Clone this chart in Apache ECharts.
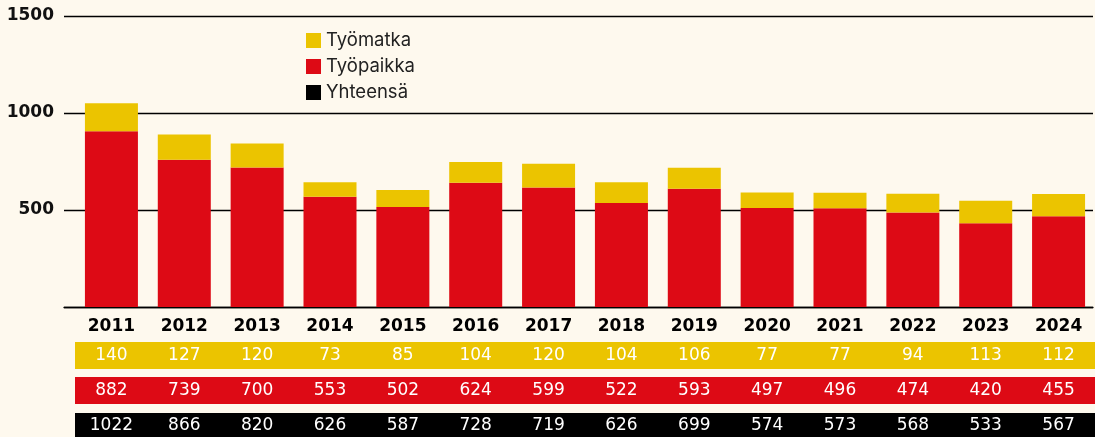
<!DOCTYPE html>
<html>
<head>
<meta charset="utf-8">
<script src="https://cdn.jsdelivr.net/npm/echarts@6/dist/echarts.min.js"></script>
<style>
html,body{margin:0;padding:0;background:#fef9ee;}
#chart{width:1095px;height:437px;}
</style>
</head>
<body>
<div id="chart"></div>
<script>
const years = ['2011','2012','2013','2014','2015','2016','2017','2018','2019','2020','2021','2022','2023','2024'];
const tyomatka = [140,127,120,73,85,104,120,104,106,77,77,94,113,112];
const tyopaikka = [882,739,700,553,502,624,599,522,593,497,496,474,420,455];
const yhteensa = [1022,866,820,626,587,728,719,626,699,574,573,568,533,567];
const seriesNames = ['Työmatka','Työpaikka','Yhteensä'];
const yMin = 0, yMax = 1500, yStep = 500;

const YELLOW = '#ebc400', RED = '#dd0a15', BLACK = '#000000';
const numFont = {fontFamily:'DejaVu Sans', fontSize:17, color:'#ffffff'};
const barGeom = {left:75, width:1026, top:16, height:291};
const barAxisMax = 1460;

function tableAxis(grid, values, color, offset){
  return {
    type:'category', gridIndex:grid, data:years, position:'bottom', offset:offset,
    axisLine:{show:true, onZero:false, lineStyle:{color:color, width:27, cap:'butt'}},
    axisTick:{show:false},
    axisLabel:Object.assign({margin:0, verticalAlign:'middle', interval:0,
      formatter:(v,i)=>String(values[i])}, numFont)
  };
}
function hiddenY(grid, max){
  return {type:'value', gridIndex:grid, min:0, max:max, show:false, splitLine:{show:false}};
}

const chart = echarts.init(document.getElementById('chart'), null, {renderer:'canvas'});
chart.setOption({
  backgroundColor:'#fef9ee',
  animation:false,
  grid:[
    {left:64, right:2, top:16, height:291},
    barGeom, barGeom, barGeom, barGeom
  ],
  legend:{
    orient:'vertical', left:306, top:31, padding:0, itemWidth:15, itemHeight:15, itemGap:7,
    icon:'rect', selectedMode:false,
    textStyle:{fontFamily:'Inter', fontSize:18.5, color:'#222'},
    data:seriesNames
  },
  xAxis:[
    {type:'category', gridIndex:0, data:years, position:'bottom',
     axisLine:{show:true, onZero:false, lineStyle:{color:'#000', width:1.3}},
     axisTick:{show:false}, axisLabel:{show:false}},
    {type:'category', gridIndex:1, data:years, position:'bottom',
     axisLine:{show:false}, axisTick:{show:false},
     axisLabel:{margin:11, interval:0, fontFamily:'DejaVu Sans', fontWeight:'bold', fontSize:17, color:'#000'}},
    tableAxis(2, tyomatka, YELLOW, 48.5),
    tableAxis(3, tyopaikka, RED, 83.5),
    tableAxis(4, yhteensa, BLACK, 119)
  ],
  yAxis:[
    {type:'value', gridIndex:0, min:yMin, max:yMax, interval:yStep,
     axisLine:{show:false}, axisTick:{show:false},
     splitLine:{show:true, lineStyle:{color:'#000', width:1.3}},
     axisLabel:{margin:10, fontFamily:'DejaVu Sans', fontWeight:'bold', fontSize:17, color:'#111',
       formatter:v=> v===0 ? '' : String(v)}},
    hiddenY(1, barAxisMax), hiddenY(2, 1), hiddenY(3, 1), hiddenY(4, 1)
  ],
  series:[
    {name:seriesNames[1], type:'bar', xAxisIndex:1, yAxisIndex:1, stack:'s', barWidth:53,
     itemStyle:{color:RED}, data:tyopaikka},
    {name:seriesNames[0], type:'bar', xAxisIndex:1, yAxisIndex:1, stack:'s', barWidth:53,
     itemStyle:{color:YELLOW}, data:tyomatka},
    {name:seriesNames[2], type:'line', xAxisIndex:1, yAxisIndex:1, data:[],
     itemStyle:{color:BLACK}, lineStyle:{color:BLACK}}
  ]
});
</script>
</body>
</html>
